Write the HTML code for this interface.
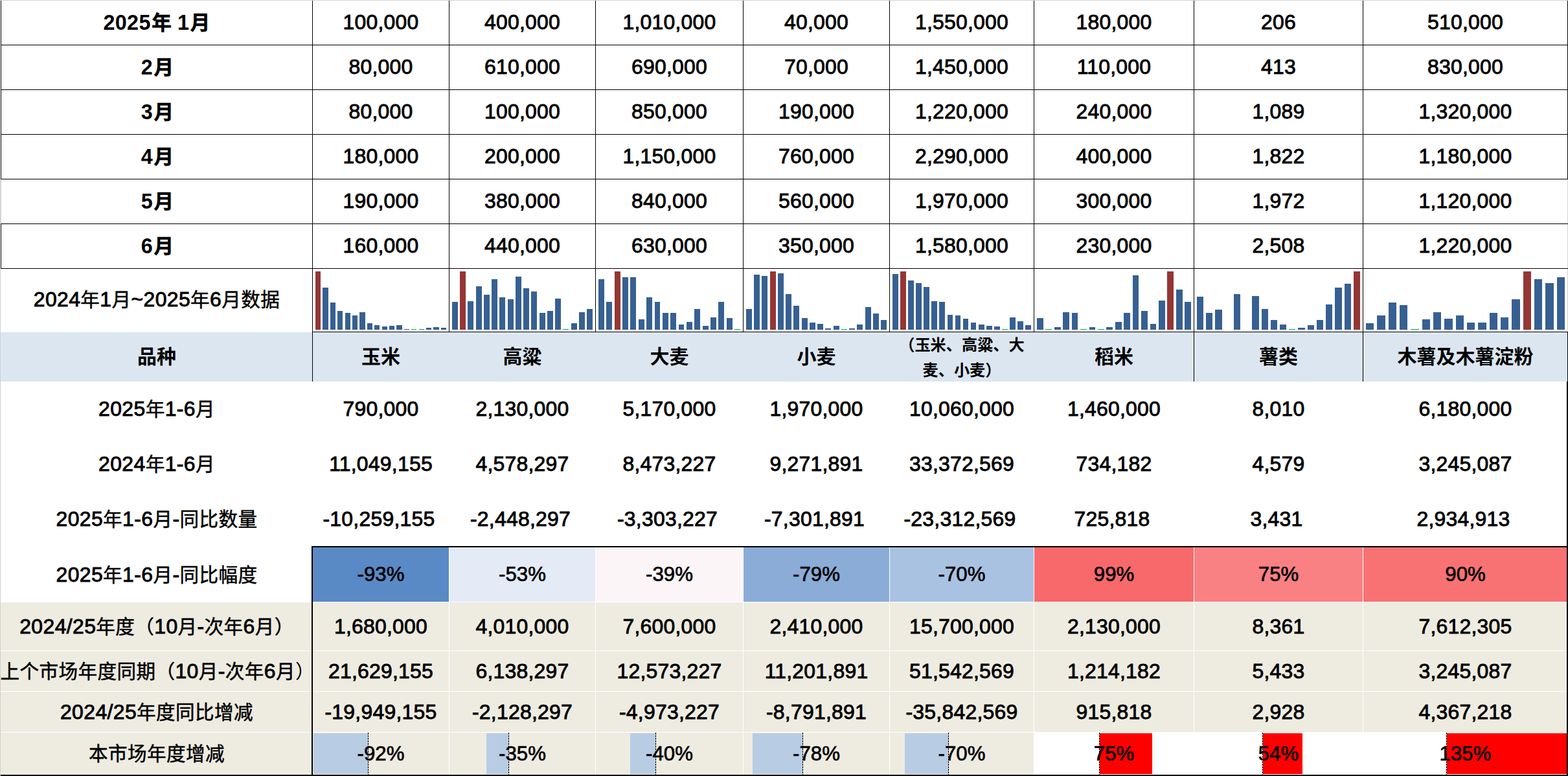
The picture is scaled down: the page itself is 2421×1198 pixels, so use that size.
<!DOCTYPE html>
<html lang="zh"><head><meta charset="utf-8"><title>table</title>
<style>
html,body{margin:0;padding:0}
html{width:2421px;height:1198px;overflow:hidden}
body{width:2421px;height:1198px;position:relative;overflow:hidden;background:#fff;font-family:"Liberation Sans","Noto Sans CJK SC",sans-serif;color:#000}
.r{position:absolute}
.dash{width:1px;background:repeating-linear-gradient(to bottom,#000 0,#000 3px,transparent 3px,transparent 4px)}
.c{position:absolute;text-align:center;white-space:nowrap;font-size:32.3px}
.n,.l{-webkit-text-stroke:.9px #000;font-size:31.9px;letter-spacing:.25px}
.l{letter-spacing:.4px}
.p{-webkit-text-stroke:.7px #000;font-size:31.2px}
.bd{font-weight:bold;margin-top:1px;letter-spacing:.3px}
.hd{font-weight:bold;margin-top:-.7px}
.hd2{font-weight:bold;font-size:25px;line-height:38.3px}
.k{font-family:"Liberation Sans","Noto Sans CJK SC",sans-serif;font-size:29.6px;letter-spacing:.4px;-webkit-text-stroke:.5px #000}
.tp{-webkit-text-stroke:0}
.bd .k{font-size:30.6px;letter-spacing:0;margin-left:1.5px;-webkit-text-stroke:.6px #000}
.hd .k{font-size:30px;letter-spacing:0;-webkit-text-stroke:0}
.hd2 .k{font-size:24.2px;letter-spacing:0;-webkit-text-stroke:0}
</style></head><body>
<div class="r" style="left:0px;top:513px;width:2420px;height:76px;background:#DCE6F1;"></div>
<div class="r" style="left:0px;top:930px;width:2420px;height:266px;background:#EEECE1;"></div>
<div class="r" style="left:1597px;top:1131px;width:823px;height:65px;background:#fff;"></div>
<div class="r" style="left:483px;top:845px;width:210px;height:84px;background:#5A8AC6;"></div>
<div class="r" style="left:694px;top:845px;width:225px;height:84px;background:#E4EBF7;"></div>
<div class="r" style="left:920px;top:845px;width:227px;height:84px;background:#FCF5F8;"></div>
<div class="r" style="left:1148px;top:845px;width:225px;height:84px;background:#8AACD7;"></div>
<div class="r" style="left:1374px;top:845px;width:222px;height:84px;background:#A9C2E2;"></div>
<div class="r" style="left:1597px;top:845px;width:246px;height:84px;background:#F8696B;"></div>
<div class="r" style="left:1844px;top:845px;width:260px;height:84px;background:#F98184;"></div>
<div class="r" style="left:2105px;top:845px;width:315px;height:84px;background:#F87274;"></div>
<div class="r" style="left:483px;top:845px;width:1px;height:84px;background:#5A8AC6;"></div>
<div class="r" style="left:484px;top:1132px;width:84px;height:63px;background:#B8CCE4;"></div>
<div class="r dash" style="left:568px;top:1131px;height:65px"></div>
<div class="r" style="left:751px;top:1132px;width:34px;height:63px;background:#B8CCE4;"></div>
<div class="r dash" style="left:785px;top:1131px;height:65px"></div>
<div class="r" style="left:973px;top:1132px;width:39px;height:63px;background:#B8CCE4;"></div>
<div class="r dash" style="left:1012px;top:1131px;height:65px"></div>
<div class="r" style="left:1162px;top:1132px;width:77px;height:63px;background:#B8CCE4;"></div>
<div class="r dash" style="left:1239px;top:1131px;height:65px"></div>
<div class="r" style="left:1397px;top:1132px;width:67px;height:63px;background:#B8CCE4;"></div>
<div class="r dash" style="left:1464px;top:1131px;height:65px"></div>
<div class="r" style="left:1698px;top:1132px;width:81px;height:63px;background:#FF0000;"></div>
<div class="r dash" style="left:1697px;top:1131px;height:65px"></div>
<div class="r" style="left:1950px;top:1132px;width:61px;height:63px;background:#FF0000;"></div>
<div class="r dash" style="left:1949px;top:1131px;height:65px"></div>
<div class="r" style="left:2234px;top:1132px;width:185px;height:63px;background:#FF0000;"></div>
<div class="r dash" style="left:2233px;top:1131px;height:65px"></div>
<div class="r" style="left:0px;top:929px;width:2420px;height:1px;background:#fff;"></div>
<div class="r" style="left:0px;top:1004px;width:2420px;height:1px;background:#fff;"></div>
<div class="r" style="left:0px;top:1067px;width:2420px;height:1px;background:#fff;"></div>
<div class="r" style="left:0px;top:1130px;width:2420px;height:1px;background:#fff;"></div>
<div class="r" style="left:693px;top:845px;width:1px;height:351px;background:#fff;"></div>
<div class="r" style="left:919px;top:845px;width:1px;height:351px;background:#fff;"></div>
<div class="r" style="left:1147px;top:845px;width:1px;height:351px;background:#fff;"></div>
<div class="r" style="left:1373px;top:845px;width:1px;height:351px;background:#fff;"></div>
<div class="r" style="left:1596px;top:845px;width:1px;height:351px;background:#fff;"></div>
<div class="r" style="left:1843px;top:845px;width:1px;height:351px;background:#fff;"></div>
<div class="r" style="left:2104px;top:845px;width:1px;height:351px;background:#fff;"></div>
<div class="r" style="left:0px;top:0px;width:2421px;height:1px;background:#D4D4D4;"></div>
<div class="r" style="left:0px;top:277px;width:2px;height:68px;background:#D4D4D4;"></div>
<div class="r" style="left:0px;top:415px;width:1px;height:783px;background:#D0D0D0;"></div>
<div class="r" style="left:2420px;top:277px;width:1px;height:236px;background:#D4D4D4;"></div>
<div class="r" style="left:1px;top:69px;width:2420px;height:1px;background:#000;"></div>
<div class="r" style="left:1px;top:138px;width:2420px;height:1px;background:#000;"></div>
<div class="r" style="left:1px;top:207px;width:2420px;height:1px;background:#000;"></div>
<div class="r" style="left:1px;top:276px;width:2420px;height:1px;background:#000;"></div>
<div class="r" style="left:1px;top:345px;width:2420px;height:1px;background:#000;"></div>
<div class="r" style="left:1px;top:414px;width:2420px;height:1px;background:#000;"></div>
<div class="r" style="left:482px;top:512px;width:1939px;height:1px;background:#000;"></div>
<div class="r" style="left:1px;top:1px;width:1px;height:276px;background:#000;"></div>
<div class="r" style="left:1px;top:345px;width:1px;height:70px;background:#000;"></div>
<div class="r" style="left:2420px;top:1px;width:1px;height:276px;background:#000;"></div>
<div class="r" style="left:482px;top:1px;width:1px;height:512px;background:#000;"></div>
<div class="r" style="left:693px;top:1px;width:1px;height:512px;background:#000;"></div>
<div class="r" style="left:919px;top:1px;width:1px;height:512px;background:#000;"></div>
<div class="r" style="left:1147px;top:1px;width:1px;height:512px;background:#000;"></div>
<div class="r" style="left:1373px;top:1px;width:1px;height:512px;background:#000;"></div>
<div class="r" style="left:1596px;top:1px;width:1px;height:512px;background:#000;"></div>
<div class="r" style="left:1843px;top:1px;width:1px;height:512px;background:#000;"></div>
<div class="r" style="left:2104px;top:1px;width:1px;height:512px;background:#000;"></div>
<div class="r" style="left:482px;top:512px;width:1px;height:77px;background:#000;"></div>
<div class="r" style="left:1843px;top:512px;width:1px;height:77px;background:#000;"></div>
<div class="r" style="left:2104px;top:512px;width:1px;height:77px;background:#000;"></div>
<div class="r" style="left:2420px;top:512px;width:1px;height:77px;background:#000;"></div>
<div class="r" style="left:2419px;top:589px;width:2px;height:609px;background:#000;"></div>
<div class="r" style="left:481px;top:843px;width:1940px;height:2px;background:#000;"></div>
<div class="r" style="left:481px;top:843px;width:2px;height:355px;background:#000;"></div>
<div class="r" style="left:1px;top:1196px;width:2420px;height:2px;background:#000;"></div>
<div class="r" style="left:487px;top:419px;width:8px;height:90px;background:#943634;"></div>
<div class="r" style="left:498px;top:444px;width:9px;height:65px;background:#376092;"></div>
<div class="r" style="left:510px;top:467px;width:8px;height:42px;background:#376092;"></div>
<div class="r" style="left:521px;top:480px;width:8px;height:29px;background:#376092;"></div>
<div class="r" style="left:533px;top:483px;width:8px;height:26px;background:#376092;"></div>
<div class="r" style="left:544px;top:487px;width:8px;height:22px;background:#376092;"></div>
<div class="r" style="left:555px;top:482px;width:9px;height:27px;background:#376092;"></div>
<div class="r" style="left:567px;top:499px;width:8px;height:10px;background:#376092;"></div>
<div class="r" style="left:578px;top:502px;width:8px;height:7px;background:#376092;"></div>
<div class="r" style="left:590px;top:504px;width:8px;height:5px;background:#376092;"></div>
<div class="r" style="left:601px;top:503px;width:8px;height:6px;background:#376092;"></div>
<div class="r" style="left:612px;top:502px;width:9px;height:7px;background:#376092;"></div>
<div class="r" style="left:624px;top:508px;width:8px;height:1px;background:#376092;"></div>
<div class="r" style="left:635px;top:508px;width:8px;height:1px;background:#00B050;"></div>
<div class="r" style="left:647px;top:508px;width:8px;height:1px;background:#00B050;"></div>
<div class="r" style="left:658px;top:506px;width:8px;height:3px;background:#376092;"></div>
<div class="r" style="left:669px;top:505px;width:9px;height:4px;background:#376092;"></div>
<div class="r" style="left:681px;top:506px;width:8px;height:3px;background:#376092;"></div>
<div class="r" style="left:698px;top:466px;width:9px;height:43px;background:#376092;"></div>
<div class="r" style="left:710px;top:419px;width:9px;height:90px;background:#943634;"></div>
<div class="r" style="left:722px;top:465px;width:9px;height:44px;background:#376092;"></div>
<div class="r" style="left:735px;top:442px;width:9px;height:67px;background:#376092;"></div>
<div class="r" style="left:747px;top:455px;width:9px;height:54px;background:#376092;"></div>
<div class="r" style="left:759px;top:431px;width:9px;height:78px;background:#376092;"></div>
<div class="r" style="left:771px;top:459px;width:9px;height:50px;background:#376092;"></div>
<div class="r" style="left:784px;top:462px;width:9px;height:47px;background:#376092;"></div>
<div class="r" style="left:796px;top:427px;width:9px;height:82px;background:#376092;"></div>
<div class="r" style="left:808px;top:445px;width:9px;height:64px;background:#376092;"></div>
<div class="r" style="left:820px;top:450px;width:9px;height:59px;background:#376092;"></div>
<div class="r" style="left:833px;top:483px;width:9px;height:26px;background:#376092;"></div>
<div class="r" style="left:845px;top:480px;width:9px;height:29px;background:#376092;"></div>
<div class="r" style="left:857px;top:461px;width:9px;height:48px;background:#376092;"></div>
<div class="r" style="left:869px;top:508px;width:9px;height:1px;background:#00B050;"></div>
<div class="r" style="left:882px;top:499px;width:9px;height:10px;background:#376092;"></div>
<div class="r" style="left:894px;top:482px;width:9px;height:27px;background:#376092;"></div>
<div class="r" style="left:906px;top:477px;width:9px;height:32px;background:#376092;"></div>
<div class="r" style="left:924px;top:431px;width:9px;height:78px;background:#376092;"></div>
<div class="r" style="left:936px;top:466px;width:9px;height:43px;background:#376092;"></div>
<div class="r" style="left:949px;top:419px;width:9px;height:90px;background:#943634;"></div>
<div class="r" style="left:961px;top:428px;width:9px;height:81px;background:#376092;"></div>
<div class="r" style="left:973px;top:428px;width:9px;height:81px;background:#376092;"></div>
<div class="r" style="left:986px;top:493px;width:9px;height:16px;background:#376092;"></div>
<div class="r" style="left:998px;top:459px;width:9px;height:50px;background:#376092;"></div>
<div class="r" style="left:1011px;top:466px;width:8px;height:43px;background:#376092;"></div>
<div class="r" style="left:1023px;top:483px;width:9px;height:26px;background:#376092;"></div>
<div class="r" style="left:1035px;top:483px;width:9px;height:26px;background:#376092;"></div>
<div class="r" style="left:1048px;top:501px;width:8px;height:8px;background:#376092;"></div>
<div class="r" style="left:1060px;top:497px;width:9px;height:12px;background:#376092;"></div>
<div class="r" style="left:1072px;top:477px;width:9px;height:32px;background:#376092;"></div>
<div class="r" style="left:1085px;top:503px;width:9px;height:6px;background:#376092;"></div>
<div class="r" style="left:1097px;top:490px;width:9px;height:19px;background:#376092;"></div>
<div class="r" style="left:1109px;top:466px;width:9px;height:43px;background:#376092;"></div>
<div class="r" style="left:1122px;top:491px;width:9px;height:18px;background:#376092;"></div>
<div class="r" style="left:1134px;top:508px;width:9px;height:1px;background:#00B050;"></div>
<div class="r" style="left:1152px;top:477px;width:9px;height:32px;background:#376092;"></div>
<div class="r" style="left:1164px;top:424px;width:9px;height:85px;background:#376092;"></div>
<div class="r" style="left:1176px;top:426px;width:9px;height:83px;background:#376092;"></div>
<div class="r" style="left:1189px;top:419px;width:9px;height:90px;background:#943634;"></div>
<div class="r" style="left:1201px;top:422px;width:9px;height:87px;background:#376092;"></div>
<div class="r" style="left:1213px;top:454px;width:9px;height:55px;background:#376092;"></div>
<div class="r" style="left:1225px;top:472px;width:9px;height:37px;background:#376092;"></div>
<div class="r" style="left:1238px;top:491px;width:9px;height:18px;background:#376092;"></div>
<div class="r" style="left:1250px;top:498px;width:9px;height:11px;background:#376092;"></div>
<div class="r" style="left:1262px;top:500px;width:9px;height:9px;background:#376092;"></div>
<div class="r" style="left:1274px;top:507px;width:9px;height:2px;background:#376092;"></div>
<div class="r" style="left:1287px;top:503px;width:9px;height:6px;background:#376092;"></div>
<div class="r" style="left:1299px;top:508px;width:9px;height:1px;background:#00B050;"></div>
<div class="r" style="left:1311px;top:507px;width:9px;height:2px;background:#376092;"></div>
<div class="r" style="left:1323px;top:501px;width:9px;height:8px;background:#376092;"></div>
<div class="r" style="left:1336px;top:474px;width:9px;height:35px;background:#376092;"></div>
<div class="r" style="left:1348px;top:484px;width:9px;height:25px;background:#376092;"></div>
<div class="r" style="left:1360px;top:494px;width:9px;height:15px;background:#376092;"></div>
<div class="r" style="left:1378px;top:423px;width:9px;height:86px;background:#376092;"></div>
<div class="r" style="left:1390px;top:419px;width:9px;height:90px;background:#943634;"></div>
<div class="r" style="left:1402px;top:433px;width:9px;height:76px;background:#376092;"></div>
<div class="r" style="left:1414px;top:437px;width:9px;height:72px;background:#376092;"></div>
<div class="r" style="left:1426px;top:443px;width:9px;height:66px;background:#376092;"></div>
<div class="r" style="left:1438px;top:465px;width:9px;height:44px;background:#376092;"></div>
<div class="r" style="left:1450px;top:466px;width:9px;height:43px;background:#376092;"></div>
<div class="r" style="left:1463px;top:486px;width:8px;height:23px;background:#376092;"></div>
<div class="r" style="left:1475px;top:487px;width:8px;height:22px;background:#376092;"></div>
<div class="r" style="left:1487px;top:492px;width:8px;height:17px;background:#376092;"></div>
<div class="r" style="left:1499px;top:498px;width:8px;height:11px;background:#376092;"></div>
<div class="r" style="left:1511px;top:501px;width:9px;height:8px;background:#376092;"></div>
<div class="r" style="left:1523px;top:503px;width:9px;height:6px;background:#376092;"></div>
<div class="r" style="left:1535px;top:504px;width:9px;height:5px;background:#376092;"></div>
<div class="r" style="left:1547px;top:508px;width:9px;height:1px;background:#00B050;"></div>
<div class="r" style="left:1559px;top:490px;width:9px;height:19px;background:#376092;"></div>
<div class="r" style="left:1571px;top:496px;width:9px;height:13px;background:#376092;"></div>
<div class="r" style="left:1583px;top:502px;width:9px;height:7px;background:#376092;"></div>
<div class="r" style="left:1601px;top:491px;width:10px;height:18px;background:#376092;"></div>
<div class="r" style="left:1614px;top:508px;width:10px;height:1px;background:#00B050;"></div>
<div class="r" style="left:1628px;top:505px;width:10px;height:4px;background:#376092;"></div>
<div class="r" style="left:1641px;top:482px;width:10px;height:27px;background:#376092;"></div>
<div class="r" style="left:1655px;top:483px;width:9px;height:26px;background:#376092;"></div>
<div class="r" style="left:1668px;top:508px;width:10px;height:1px;background:#00B050;"></div>
<div class="r" style="left:1682px;top:505px;width:9px;height:4px;background:#376092;"></div>
<div class="r" style="left:1695px;top:508px;width:10px;height:1px;background:#00B050;"></div>
<div class="r" style="left:1708px;top:505px;width:10px;height:4px;background:#376092;"></div>
<div class="r" style="left:1722px;top:497px;width:10px;height:12px;background:#376092;"></div>
<div class="r" style="left:1735px;top:483px;width:10px;height:26px;background:#376092;"></div>
<div class="r" style="left:1749px;top:425px;width:9px;height:84px;background:#376092;"></div>
<div class="r" style="left:1762px;top:480px;width:10px;height:29px;background:#376092;"></div>
<div class="r" style="left:1776px;top:500px;width:9px;height:9px;background:#376092;"></div>
<div class="r" style="left:1789px;top:464px;width:10px;height:45px;background:#376092;"></div>
<div class="r" style="left:1802px;top:419px;width:10px;height:90px;background:#943634;"></div>
<div class="r" style="left:1816px;top:447px;width:10px;height:62px;background:#376092;"></div>
<div class="r" style="left:1829px;top:466px;width:10px;height:43px;background:#376092;"></div>
<div class="r" style="left:1848px;top:458px;width:10px;height:51px;background:#376092;"></div>
<div class="r" style="left:1862px;top:483px;width:10px;height:26px;background:#376092;"></div>
<div class="r" style="left:1876px;top:478px;width:11px;height:31px;background:#376092;"></div>
<div class="r" style="left:1905px;top:454px;width:10px;height:55px;background:#376092;"></div>
<div class="r" style="left:1933px;top:457px;width:11px;height:52px;background:#376092;"></div>
<div class="r" style="left:1948px;top:477px;width:10px;height:32px;background:#376092;"></div>
<div class="r" style="left:1962px;top:494px;width:10px;height:15px;background:#376092;"></div>
<div class="r" style="left:1976px;top:501px;width:10px;height:8px;background:#376092;"></div>
<div class="r" style="left:1990px;top:508px;width:10px;height:1px;background:#00B050;"></div>
<div class="r" style="left:2004px;top:506px;width:11px;height:3px;background:#376092;"></div>
<div class="r" style="left:2019px;top:502px;width:10px;height:7px;background:#376092;"></div>
<div class="r" style="left:2033px;top:494px;width:10px;height:15px;background:#376092;"></div>
<div class="r" style="left:2047px;top:470px;width:10px;height:39px;background:#376092;"></div>
<div class="r" style="left:2061px;top:444px;width:11px;height:65px;background:#376092;"></div>
<div class="r" style="left:2076px;top:438px;width:10px;height:71px;background:#376092;"></div>
<div class="r" style="left:2090px;top:419px;width:10px;height:90px;background:#943634;"></div>
<div class="r" style="left:2109px;top:499px;width:12px;height:10px;background:#376092;"></div>
<div class="r" style="left:2126px;top:487px;width:13px;height:22px;background:#376092;"></div>
<div class="r" style="left:2144px;top:467px;width:12px;height:42px;background:#376092;"></div>
<div class="r" style="left:2161px;top:471px;width:12px;height:38px;background:#376092;"></div>
<div class="r" style="left:2178px;top:508px;width:13px;height:1px;background:#00B050;"></div>
<div class="r" style="left:2196px;top:493px;width:12px;height:16px;background:#376092;"></div>
<div class="r" style="left:2213px;top:482px;width:12px;height:27px;background:#376092;"></div>
<div class="r" style="left:2230px;top:492px;width:13px;height:17px;background:#376092;"></div>
<div class="r" style="left:2248px;top:487px;width:12px;height:22px;background:#376092;"></div>
<div class="r" style="left:2265px;top:498px;width:12px;height:11px;background:#376092;"></div>
<div class="r" style="left:2282px;top:498px;width:13px;height:11px;background:#376092;"></div>
<div class="r" style="left:2300px;top:483px;width:12px;height:26px;background:#376092;"></div>
<div class="r" style="left:2317px;top:490px;width:12px;height:19px;background:#376092;"></div>
<div class="r" style="left:2334px;top:462px;width:13px;height:47px;background:#376092;"></div>
<div class="r" style="left:2352px;top:419px;width:12px;height:90px;background:#943634;"></div>
<div class="r" style="left:2369px;top:431px;width:12px;height:78px;background:#376092;"></div>
<div class="r" style="left:2386px;top:437px;width:13px;height:72px;background:#376092;"></div>
<div class="r" style="left:2404px;top:428px;width:12px;height:81px;background:#376092;"></div>
<div class="c bd" style="left:2px;top:0px;width:480px;height:69px;line-height:69px;">2025<span class="k">年</span> 1<span class="k">月</span></div>
<div class="c n" style="left:483px;top:0px;width:210px;height:69px;line-height:69px;">100,000</div>
<div class="c n" style="left:694px;top:0px;width:225px;height:69px;line-height:69px;">400,000</div>
<div class="c n" style="left:920px;top:0px;width:227px;height:69px;line-height:69px;">1,010,000</div>
<div class="c n" style="left:1148px;top:0px;width:225px;height:69px;line-height:69px;">40,000</div>
<div class="c n" style="left:1374px;top:0px;width:222px;height:69px;line-height:69px;">1,550,000</div>
<div class="c n" style="left:1597px;top:0px;width:246px;height:69px;line-height:69px;">180,000</div>
<div class="c n" style="left:1844px;top:0px;width:260px;height:69px;line-height:69px;">206</div>
<div class="c n" style="left:2105px;top:0px;width:315px;height:69px;line-height:69px;">510,000</div>
<div class="c bd" style="left:3px;top:69px;width:480px;height:69px;line-height:69px;">2<span class="k">月</span></div>
<div class="c n" style="left:483px;top:69px;width:210px;height:69px;line-height:69px;">80,000</div>
<div class="c n" style="left:694px;top:69px;width:225px;height:69px;line-height:69px;">610,000</div>
<div class="c n" style="left:920px;top:69px;width:227px;height:69px;line-height:69px;">690,000</div>
<div class="c n" style="left:1148px;top:69px;width:225px;height:69px;line-height:69px;">70,000</div>
<div class="c n" style="left:1374px;top:69px;width:222px;height:69px;line-height:69px;">1,450,000</div>
<div class="c n" style="left:1597px;top:69px;width:246px;height:69px;line-height:69px;">110,000</div>
<div class="c n" style="left:1844px;top:69px;width:260px;height:69px;line-height:69px;">413</div>
<div class="c n" style="left:2105px;top:69px;width:315px;height:69px;line-height:69px;">830,000</div>
<div class="c bd" style="left:3px;top:138px;width:480px;height:69px;line-height:69px;">3<span class="k">月</span></div>
<div class="c n" style="left:483px;top:138px;width:210px;height:69px;line-height:69px;">80,000</div>
<div class="c n" style="left:694px;top:138px;width:225px;height:69px;line-height:69px;">100,000</div>
<div class="c n" style="left:920px;top:138px;width:227px;height:69px;line-height:69px;">850,000</div>
<div class="c n" style="left:1148px;top:138px;width:225px;height:69px;line-height:69px;">190,000</div>
<div class="c n" style="left:1374px;top:138px;width:222px;height:69px;line-height:69px;">1,220,000</div>
<div class="c n" style="left:1597px;top:138px;width:246px;height:69px;line-height:69px;">240,000</div>
<div class="c n" style="left:1844px;top:138px;width:260px;height:69px;line-height:69px;">1,089</div>
<div class="c n" style="left:2105px;top:138px;width:315px;height:69px;line-height:69px;">1,320,000</div>
<div class="c bd" style="left:3px;top:207px;width:480px;height:69px;line-height:69px;">4<span class="k">月</span></div>
<div class="c n" style="left:483px;top:207px;width:210px;height:69px;line-height:69px;">180,000</div>
<div class="c n" style="left:694px;top:207px;width:225px;height:69px;line-height:69px;">200,000</div>
<div class="c n" style="left:920px;top:207px;width:227px;height:69px;line-height:69px;">1,150,000</div>
<div class="c n" style="left:1148px;top:207px;width:225px;height:69px;line-height:69px;">760,000</div>
<div class="c n" style="left:1374px;top:207px;width:222px;height:69px;line-height:69px;">2,290,000</div>
<div class="c n" style="left:1597px;top:207px;width:246px;height:69px;line-height:69px;">400,000</div>
<div class="c n" style="left:1844px;top:207px;width:260px;height:69px;line-height:69px;">1,822</div>
<div class="c n" style="left:2105px;top:207px;width:315px;height:69px;line-height:69px;">1,180,000</div>
<div class="c bd" style="left:3px;top:276px;width:480px;height:69px;line-height:69px;">5<span class="k">月</span></div>
<div class="c n" style="left:483px;top:276px;width:210px;height:69px;line-height:69px;">190,000</div>
<div class="c n" style="left:694px;top:276px;width:225px;height:69px;line-height:69px;">380,000</div>
<div class="c n" style="left:920px;top:276px;width:227px;height:69px;line-height:69px;">840,000</div>
<div class="c n" style="left:1148px;top:276px;width:225px;height:69px;line-height:69px;">560,000</div>
<div class="c n" style="left:1374px;top:276px;width:222px;height:69px;line-height:69px;">1,970,000</div>
<div class="c n" style="left:1597px;top:276px;width:246px;height:69px;line-height:69px;">300,000</div>
<div class="c n" style="left:1844px;top:276px;width:260px;height:69px;line-height:69px;">1,972</div>
<div class="c n" style="left:2105px;top:276px;width:315px;height:69px;line-height:69px;">1,120,000</div>
<div class="c bd" style="left:3px;top:345px;width:480px;height:69px;line-height:69px;">6<span class="k">月</span></div>
<div class="c n" style="left:483px;top:345px;width:210px;height:69px;line-height:69px;">160,000</div>
<div class="c n" style="left:694px;top:345px;width:225px;height:69px;line-height:69px;">440,000</div>
<div class="c n" style="left:920px;top:345px;width:227px;height:69px;line-height:69px;">630,000</div>
<div class="c n" style="left:1148px;top:345px;width:225px;height:69px;line-height:69px;">350,000</div>
<div class="c n" style="left:1374px;top:345px;width:222px;height:69px;line-height:69px;">1,580,000</div>
<div class="c n" style="left:1597px;top:345px;width:246px;height:69px;line-height:69px;">230,000</div>
<div class="c n" style="left:1844px;top:345px;width:260px;height:69px;line-height:69px;">2,508</div>
<div class="c n" style="left:2105px;top:345px;width:315px;height:69px;line-height:69px;">1,220,000</div>
<div class="c l" style="left:2px;top:414px;width:480px;height:97px;line-height:97px;">2024<span class="k">年</span>1<span class="k">月</span>~2025<span class="k">年</span>6<span class="k">月数据</span></div>
<div class="c hd" style="left:2px;top:513px;width:480px;height:76px;line-height:76px;"><span class="k">品种</span></div>
<div class="c hd" style="left:483px;top:513px;width:210px;height:76px;line-height:76px;"><span class="k">玉米</span></div>
<div class="c hd" style="left:694px;top:513px;width:225px;height:76px;line-height:76px;"><span class="k">高粱</span></div>
<div class="c hd" style="left:920px;top:513px;width:227px;height:76px;line-height:76px;"><span class="k">大麦</span></div>
<div class="c hd" style="left:1148px;top:513px;width:225px;height:76px;line-height:76px;"><span class="k">小麦</span></div>
<div class="c hd2" style="left:1374px;top:512.5px;width:222px;height:76px"><span class="k">（玉米、高粱、大</span><br><span class="k">麦、小麦）</span></div>
<div class="c hd" style="left:1597px;top:513px;width:246px;height:76px;line-height:76px;"><span class="k">稻米</span></div>
<div class="c hd" style="left:1844px;top:513px;width:260px;height:76px;line-height:76px;"><span class="k">薯类</span></div>
<div class="c hd" style="left:2105px;top:513px;width:315px;height:76px;line-height:76px;"><span class="k">木薯及木薯淀粉</span></div>
<div class="c l" style="left:2px;top:589px;width:480px;height:85px;line-height:85px;">2025<span class="k">年</span>1-6<span class="k">月</span></div>
<div class="c n" style="left:483px;top:589px;width:210px;height:85px;line-height:85px;">790,000</div>
<div class="c n" style="left:694px;top:589px;width:225px;height:85px;line-height:85px;">2,130,000</div>
<div class="c n" style="left:920px;top:589px;width:227px;height:85px;line-height:85px;">5,170,000</div>
<div class="c n" style="left:1148px;top:589px;width:225px;height:85px;line-height:85px;">1,970,000</div>
<div class="c n" style="left:1374px;top:589px;width:222px;height:85px;line-height:85px;">10,060,000</div>
<div class="c n" style="left:1597px;top:589px;width:246px;height:85px;line-height:85px;">1,460,000</div>
<div class="c n" style="left:1844px;top:589px;width:260px;height:85px;line-height:85px;">8,010</div>
<div class="c n" style="left:2105px;top:589px;width:315px;height:85px;line-height:85px;">6,180,000</div>
<div class="c l" style="left:2px;top:674px;width:480px;height:85px;line-height:85px;">2024<span class="k">年</span>1-6<span class="k">月</span></div>
<div class="c n" style="left:483px;top:674px;width:210px;height:85px;line-height:85px;">11,049,155</div>
<div class="c n" style="left:694px;top:674px;width:225px;height:85px;line-height:85px;">4,578,297</div>
<div class="c n" style="left:920px;top:674px;width:227px;height:85px;line-height:85px;">8,473,227</div>
<div class="c n" style="left:1148px;top:674px;width:225px;height:85px;line-height:85px;">9,271,891</div>
<div class="c n" style="left:1374px;top:674px;width:222px;height:85px;line-height:85px;">33,372,569</div>
<div class="c n" style="left:1597px;top:674px;width:246px;height:85px;line-height:85px;">734,182</div>
<div class="c n" style="left:1844px;top:674px;width:260px;height:85px;line-height:85px;">4,579</div>
<div class="c n" style="left:2105px;top:674px;width:315px;height:85px;line-height:85px;">3,245,087</div>
<div class="c l" style="left:2px;top:759px;width:480px;height:85px;line-height:85px;">2025<span class="k">年</span>1-6<span class="k">月</span>-<span class="k">同比数量</span></div>
<div class="c n" style="left:480px;top:759px;width:210px;height:85px;line-height:85px;">-10,259,155</div>
<div class="c n" style="left:691px;top:759px;width:225px;height:85px;line-height:85px;">-2,448,297</div>
<div class="c n" style="left:917px;top:759px;width:227px;height:85px;line-height:85px;">-3,303,227</div>
<div class="c n" style="left:1145px;top:759px;width:225px;height:85px;line-height:85px;">-7,301,891</div>
<div class="c n" style="left:1371px;top:759px;width:222px;height:85px;line-height:85px;">-23,312,569</div>
<div class="c n" style="left:1594px;top:759px;width:246px;height:85px;line-height:85px;">725,818</div>
<div class="c n" style="left:1841px;top:759px;width:260px;height:85px;line-height:85px;">3,431</div>
<div class="c n" style="left:2102px;top:759px;width:315px;height:85px;line-height:85px;">2,934,913</div>
<div class="c l" style="left:2px;top:845px;width:480px;height:84px;line-height:84px;">2025<span class="k">年</span>1-6<span class="k">月</span>-<span class="k">同比幅度</span></div>
<div class="c p" style="left:483px;top:844.5px;width:210px;height:84px;line-height:84px;">-93%</div>
<div class="c p" style="left:694px;top:844.5px;width:225px;height:84px;line-height:84px;">-53%</div>
<div class="c p" style="left:920px;top:844.5px;width:227px;height:84px;line-height:84px;">-39%</div>
<div class="c p" style="left:1148px;top:844.5px;width:225px;height:84px;line-height:84px;">-79%</div>
<div class="c p" style="left:1374px;top:844.5px;width:222px;height:84px;line-height:84px;">-70%</div>
<div class="c p" style="left:1597px;top:844.5px;width:246px;height:84px;line-height:84px;">99%</div>
<div class="c p" style="left:1844px;top:844.5px;width:260px;height:84px;line-height:84px;">75%</div>
<div class="c p" style="left:2105px;top:844.5px;width:315px;height:84px;line-height:84px;">90%</div>
<div class="c l" style="left:2px;top:930px;width:480px;height:74px;line-height:74px;">2024/25<span class="k">年度（</span>10<span class="k">月</span>-<span class="k">次年</span>6<span class="k">月）</span></div>
<div class="c n" style="left:483px;top:930px;width:210px;height:74px;line-height:74px;">1,680,000</div>
<div class="c n" style="left:694px;top:930px;width:225px;height:74px;line-height:74px;">4,010,000</div>
<div class="c n" style="left:920px;top:930px;width:227px;height:74px;line-height:74px;">7,600,000</div>
<div class="c n" style="left:1148px;top:930px;width:225px;height:74px;line-height:74px;">2,410,000</div>
<div class="c n" style="left:1374px;top:930px;width:222px;height:74px;line-height:74px;">15,700,000</div>
<div class="c n" style="left:1597px;top:930px;width:246px;height:74px;line-height:74px;">2,130,000</div>
<div class="c n" style="left:1844px;top:930px;width:260px;height:74px;line-height:74px;">8,361</div>
<div class="c n" style="left:2105px;top:930px;width:315px;height:74px;line-height:74px;">7,612,305</div>
<div class="c l" style="left:0.5px;top:1005px;width:480px;height:62px;line-height:62px;"><span class="k">上个市场年度同期（</span>10<span class="k">月</span>-<span class="k">次年</span>6<span class="k">月</span><span class="k tp">）</span></div>
<div class="c n" style="left:483px;top:1005px;width:210px;height:62px;line-height:62px;">21,629,155</div>
<div class="c n" style="left:694px;top:1005px;width:225px;height:62px;line-height:62px;">6,138,297</div>
<div class="c n" style="left:920px;top:1005px;width:227px;height:62px;line-height:62px;">12,573,227</div>
<div class="c n" style="left:1148px;top:1005px;width:225px;height:62px;line-height:62px;">11,201,891</div>
<div class="c n" style="left:1374px;top:1005px;width:222px;height:62px;line-height:62px;">51,542,569</div>
<div class="c n" style="left:1597px;top:1005px;width:246px;height:62px;line-height:62px;">1,214,182</div>
<div class="c n" style="left:1844px;top:1005px;width:260px;height:62px;line-height:62px;">5,433</div>
<div class="c n" style="left:2105px;top:1005px;width:315px;height:62px;line-height:62px;">3,245,087</div>
<div class="c l" style="left:2px;top:1068px;width:480px;height:62px;line-height:62px;">2024/25<span class="k">年度同比增减</span></div>
<div class="c n" style="left:483px;top:1068px;width:210px;height:62px;line-height:62px;">-19,949,155</div>
<div class="c n" style="left:694px;top:1068px;width:225px;height:62px;line-height:62px;">-2,128,297</div>
<div class="c n" style="left:920px;top:1068px;width:227px;height:62px;line-height:62px;">-4,973,227</div>
<div class="c n" style="left:1148px;top:1068px;width:225px;height:62px;line-height:62px;">-8,791,891</div>
<div class="c n" style="left:1374px;top:1068px;width:222px;height:62px;line-height:62px;">-35,842,569</div>
<div class="c n" style="left:1597px;top:1068px;width:246px;height:62px;line-height:62px;">915,818</div>
<div class="c n" style="left:1844px;top:1068px;width:260px;height:62px;line-height:62px;">2,928</div>
<div class="c n" style="left:2105px;top:1068px;width:315px;height:62px;line-height:62px;">4,367,218</div>
<div class="c l" style="left:2px;top:1131px;width:480px;height:65px;line-height:65px;"><span class="k">本市场年度增减</span></div>
<div class="c p" style="left:483px;top:1131px;width:210px;height:65px;line-height:65px;">-92%</div>
<div class="c p" style="left:694px;top:1131px;width:225px;height:65px;line-height:65px;">-35%</div>
<div class="c p" style="left:920px;top:1131px;width:227px;height:65px;line-height:65px;">-40%</div>
<div class="c p" style="left:1148px;top:1131px;width:225px;height:65px;line-height:65px;">-78%</div>
<div class="c p" style="left:1374px;top:1131px;width:222px;height:65px;line-height:65px;">-70%</div>
<div class="c p" style="left:1597px;top:1131px;width:246px;height:65px;line-height:65px;">75%</div>
<div class="c p" style="left:1844px;top:1131px;width:260px;height:65px;line-height:65px;">54%</div>
<div class="c p" style="left:2105px;top:1131px;width:315px;height:65px;line-height:65px;">135%</div>
</body></html>
